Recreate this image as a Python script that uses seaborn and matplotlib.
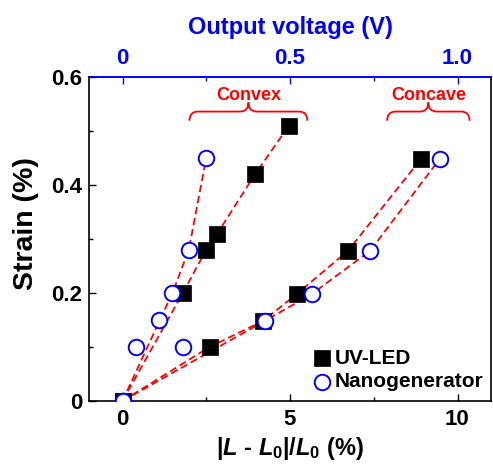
import numpy as np
import pandas as pd
import seaborn as sns
import matplotlib
matplotlib.use("Agg")
import matplotlib.pyplot as plt
from matplotlib.path import Path
from matplotlib.patches import PathPatch

# ---- data ----
uv_convex_x = [0, 1.80, 2.50, 2.83, 3.96, 4.97]
uv_convex_y = [0, 0.20, 0.28, 0.31, 0.42, 0.51]
uv_concave_x = [0, 2.60, 4.19, 5.20, 6.73, 8.92]
uv_concave_y = [0, 0.10, 0.148, 0.198, 0.278, 0.449]
nano_convex_x = [0, 0.41, 1.08, 1.49, 1.98, 2.50]
nano_convex_y = [0, 0.10, 0.15, 0.20, 0.28, 0.45]
nano_convex_fit = [0, 3, 4, 5]
nano_concave_x = [0, 1.82, 4.24, 5.65, 7.39, 9.48]
nano_concave_y = [0, 0.10, 0.148, 0.198, 0.278, 0.449]
nano_concave_fit = [0, 2, 3, 4, 5]

xticks = [0, 5, 10]
yticks = [0, 0.2, 0.4, 0.6]
yticklabels = ["0", "0.2", "0.4", "0.6"]
top_ticks = [0, 0.5, 1.0]
top_ticklabels = ["0", "0.5", "1.0"]

sns.set_theme(style="ticks")
plt.rcParams['font.family'] = ['Liberation Sans', 'DejaVu Sans']
plt.rcParams['font.weight'] = 'bold'
plt.rcParams['text.color'] = 'black'
plt.rcParams['axes.labelcolor'] = 'black'
plt.rcParams['xtick.color'] = 'black'
plt.rcParams['ytick.color'] = 'black'
plt.rcParams['mathtext.fontset'] = 'custom'
plt.rcParams['mathtext.bf'] = 'Liberation Sans:bold'
plt.rcParams['mathtext.bfit'] = 'Liberation Sans:bold:italic'
plt.rcParams['mathtext.it'] = 'Liberation Sans:bold:italic'
plt.rcParams['mathtext.rm'] = 'Liberation Sans:bold'

fig = plt.figure(figsize=(4.93, 4.66), dpi=100)
ax = fig.add_axes([89/493, 1 - 401/466, (491-89)/493, (401-77)/466])

red = '#ff0000'
blue = '#0000ff'
dash = (0, (4, 2.2))

def line(xs, ys, idx=None):
    if idx is not None:
        xs = [xs[i] for i in idx]
        ys = [ys[i] for i in idx]
    sns.lineplot(x=xs, y=ys, sort=False, estimator=None, ax=ax, color=red,
                 lw=1.3, linestyle=dash, zorder=2)

line(uv_convex_x, uv_convex_y)
line(uv_concave_x, uv_concave_y)
line(nano_convex_x, nano_convex_y, nano_convex_fit)
line(nano_concave_x, nano_concave_y, nano_concave_fit)

uv_df = pd.DataFrame({"x": uv_convex_x + uv_concave_x, "y": uv_convex_y + uv_concave_y})
nano_df = pd.DataFrame({"x": nano_convex_x + nano_concave_x, "y": nano_convex_y + nano_concave_y})

sns.scatterplot(data=uv_df, x="x", y="y", marker='s', s=125, color='black',
                edgecolor='black', linewidth=0.5, ax=ax, zorder=3, label="UV-LED")
sns.scatterplot(data=nano_df, x="x", y="y", marker='o', s=125, facecolor='white',
                edgecolor=blue, linewidth=1.4, ax=ax, zorder=4, label="Nanogenerator")

ax.set_xlim(-1, 11)
ax.set_ylim(0, 0.6)
ax.set_xticks(xticks)
ax.set_xticklabels([str(t) for t in xticks])
ax.set_xticks([2.5, 7.5], minor=True)
ax.set_yticks(yticks)
ax.set_yticklabels(yticklabels)
ax.set_yticks([0.1, 0.3, 0.5], minor=True)
ax.tick_params(axis='both', which='both', direction='in', labelsize=16, top=False, right=False,
               colors='black')
ax.tick_params(axis='both', which='major', length=5, width=1)
ax.tick_params(axis='both', which='minor', length=3, width=1)
ax.tick_params(axis='x', pad=6)
ax.tick_params(axis='y', pad=5)
for lab in ax.get_xticklabels() + ax.get_yticklabels():
    lab.set_fontweight('bold')

ax.set_xlabel(r"|$\mathit{L}$ - $\mathit{L}_\mathbf{0}$|/$\mathit{L}_\mathbf{0}$ (%)",
              fontsize=17, fontweight='bold', labelpad=3)
ax.set_ylabel("Strain (%)", fontsize=20.5, fontweight='bold')
ax.yaxis.set_label_coords(-0.125, 0.549)

for s in ['left', 'bottom', 'right']:
    ax.spines[s].set_color('black')
    ax.spines[s].set_linewidth(1.2)
ax.spines['top'].set_color(blue)
ax.spines['top'].set_linewidth(1.2)

sec = ax.secondary_xaxis('top', functions=(lambda x: x / 10, lambda v: v * 10))
sec.set_xticks(top_ticks)
sec.set_xticklabels(top_ticklabels)
sec.set_xticks([0.25, 0.75], minor=True)
sec.tick_params(axis='x', which='both', direction='in', colors=blue, labelsize=16, pad=6)
sec.tick_params(axis='x', which='major', length=5, width=1)
sec.tick_params(axis='x', which='minor', length=3, width=1)
sec.spines['top'].set_color(blue)
sec.spines['top'].set_linewidth(1.2)
for lab in sec.get_xticklabels():
    lab.set_fontweight('bold')
sec.set_xlabel("Output voltage (V)", color=blue, fontsize=17, fontweight='bold', labelpad=10)

def brace(x0, x1, y, h, d):
    xm = (x0 + x1) / 2
    verts = [(x0, y - h), (x0, y), (x0 + d, y),
             (xm - d, y), (xm, y), (xm, y + h),
             (xm, y), (xm + d, y),
             (x1 - d, y), (x1, y), (x1, y - h)]
    codes = [Path.MOVETO, Path.CURVE3, Path.CURVE3,
             Path.LINETO, Path.CURVE3, Path.CURVE3,
             Path.CURVE3, Path.CURVE3,
             Path.LINETO, Path.CURVE3, Path.CURVE3]
    ax.add_patch(PathPatch(Path(verts, codes), fill=False, edgecolor=red, lw=1.3, zorder=2))

brace(2.0, 5.52, 0.536, 0.017, 0.25)
brace(7.9, 10.36, 0.536, 0.017, 0.25)
ax.text(3.76, 0.566, "Convex", color=red, fontsize=13, fontweight='bold', ha='center', va='center')
ax.text(9.13, 0.566, "Concave", color=red, fontsize=13, fontweight='bold', ha='center', va='center')

leg = ax.legend(loc='lower right', frameon=False, fontsize=15, handletextpad=0.05,
                borderaxespad=0.2, labelspacing=0.2, handlelength=1.1,
                bbox_to_anchor=(1.012, -0.008))
for t in leg.get_texts():
    t.set_fontweight('bold')
    t.set_color('black')

fig.savefig("out.png", dpi=100)
